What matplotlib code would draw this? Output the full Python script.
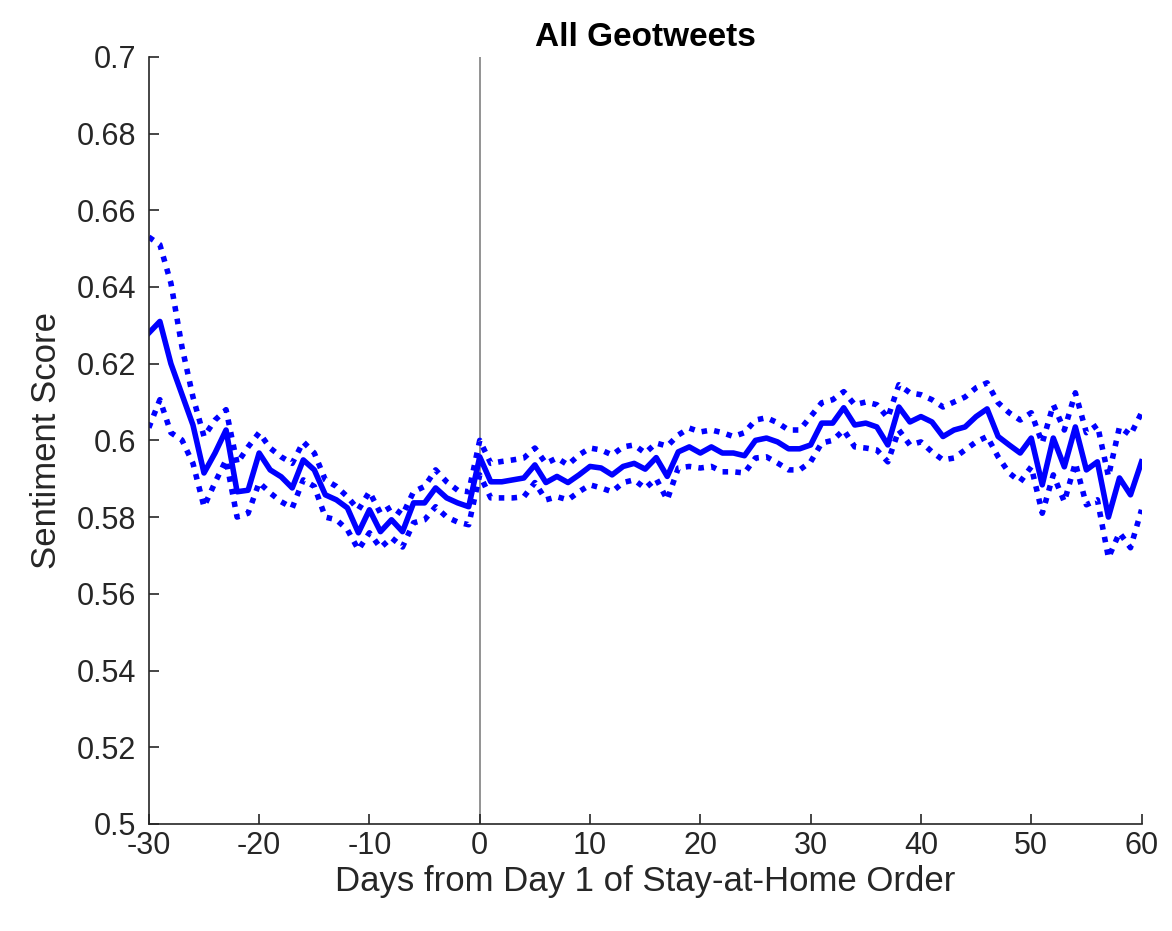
import matplotlib.pyplot as plt
import numpy as np

plt.rcParams["font.family"] = ["Liberation Sans", "DejaVu Sans"]
plt.rcParams["axes.unicode_minus"] = False

days = np.arange(-30, 61)

sentiment = [
    0.628, 0.631, 0.620, 0.612, 0.604, 0.5915, 0.5967, 0.6027, 0.5866, 0.587,
    0.5967, 0.5923, 0.5905, 0.5876, 0.5949, 0.5923, 0.5858, 0.5845, 0.5824, 0.5759,
    0.5819, 0.5762, 0.5793, 0.5762, 0.5837, 0.5837, 0.5876, 0.585, 0.5837, 0.5827,
    0.5957, 0.5892, 0.5892, 0.5897, 0.5902, 0.5936, 0.589, 0.5906, 0.589, 0.591,
    0.5932, 0.5928, 0.591, 0.5932, 0.594, 0.5925, 0.5955, 0.5906, 0.597, 0.5983,
    0.5967, 0.5983, 0.5967, 0.5967, 0.596, 0.600, 0.6006, 0.5996, 0.5978, 0.5978,
    0.5988, 0.6045, 0.6045, 0.6085, 0.604, 0.6045, 0.6035, 0.5988, 0.6087, 0.6048,
    0.6062, 0.6048, 0.601, 0.6027, 0.6035, 0.6062, 0.6082, 0.601, 0.5988, 0.5967,
    0.6006, 0.5884, 0.6006, 0.5931, 0.6035, 0.5923, 0.5944, 0.580, 0.5902, 0.5858,
    0.5944,
]

upper = [
    0.653, 0.651, 0.641, 0.6244, 0.6113, 0.601, 0.6053, 0.608, 0.594, 0.5983,
    0.602, 0.598, 0.5957, 0.594, 0.5996, 0.5967, 0.5897, 0.588, 0.5853, 0.5819,
    0.5866, 0.581, 0.5827, 0.5806, 0.5866, 0.588, 0.5923, 0.5892, 0.587, 0.5866,
    0.600, 0.594, 0.5945, 0.5949, 0.5954, 0.598, 0.594, 0.5954, 0.5936, 0.5962,
    0.598, 0.5975, 0.5962, 0.5983, 0.5988, 0.5967, 0.5993, 0.5985, 0.6014, 0.6032,
    0.6022, 0.6027, 0.602, 0.601, 0.602, 0.6053, 0.6059, 0.6046, 0.6027, 0.6027,
    0.6062, 0.6098, 0.6106, 0.6127, 0.6093, 0.610, 0.6093, 0.6059, 0.6145, 0.6124,
    0.6119, 0.6106, 0.6087, 0.610, 0.6113, 0.6137, 0.615, 0.6098, 0.6072, 0.6053,
    0.6072, 0.5993, 0.6093, 0.6027, 0.6124, 0.602, 0.604, 0.5906, 0.6035, 0.6014,
    0.6072,
]

lower = [
    0.6033, 0.6106, 0.602, 0.6001, 0.594, 0.5827, 0.589, 0.5949, 0.580, 0.581,
    0.589, 0.5863, 0.584, 0.5824, 0.5897, 0.588, 0.580, 0.5793, 0.5767, 0.5715,
    0.5759, 0.572, 0.5746, 0.5722, 0.5785, 0.5793, 0.5827, 0.580, 0.5787, 0.578,
    0.591, 0.585, 0.585, 0.585, 0.5853, 0.589, 0.5845, 0.5853, 0.5845, 0.5866,
    0.5884, 0.5876, 0.5866, 0.589, 0.5897, 0.5875, 0.590, 0.5845, 0.5928, 0.5932,
    0.5928, 0.5932, 0.5918, 0.5918, 0.5915, 0.5954, 0.5957, 0.5941, 0.5923, 0.5923,
    0.5944, 0.5993, 0.600, 0.6027, 0.5983, 0.598, 0.5975, 0.5944, 0.6027, 0.5988,
    0.5996, 0.597, 0.5949, 0.5954, 0.5975, 0.5996, 0.601, 0.5957, 0.5915, 0.5892,
    0.5931, 0.581, 0.591, 0.584, 0.5941, 0.5832, 0.5845, 0.5694, 0.5759, 0.572,
    0.5819,
]


def main() -> None:
    fig = plt.figure(figsize=(11.72, 9.31), dpi=100)
    ax = fig.add_axes([0.127, 0.115, 0.847, 0.824])

    ax.axvline(0, color="#808080", lw=1.2, zorder=1)
    ax.plot(days, upper, color="#0000ff", lw=4, ls=(0, (1, 1.3)))
    ax.plot(days, lower, color="#0000ff", lw=4, ls=(0, (1, 1.3)))
    ax.plot(days, sentiment, color="#0000ff", lw=4)

    ax.set_xlim(-30, 60)
    ax.set_ylim(0.5, 0.7)
    ax.set_xticks(np.arange(-30, 61, 10))
    ax.set_yticks(np.arange(0.5, 0.701, 0.02))
    ax.set_yticklabels(["0.5", "0.52", "0.54", "0.56", "0.58", "0.6",
                        "0.62", "0.64", "0.66", "0.68", "0.7"])
    ax.tick_params(direction="in", length=7, width=1.2, labelsize=22,
                   colors="#262626")
    ax.tick_params(axis="y", pad=9)
    ax.tick_params(axis="x", pad=5)
    for side in ("top", "right"):
        ax.spines[side].set_visible(False)
    for side in ("left", "bottom"):
        ax.spines[side].set_color("#262626")
        ax.spines[side].set_linewidth(1.2)

    ax.set_xlabel("Days from Day 1 of Stay-at-Home Order", fontsize=25,
                  color="#262626", labelpad=3)
    ax.set_ylabel("Sentiment Score", fontsize=25, color="#262626", labelpad=10)
    ax.set_title("All Geotweets", fontsize=24, fontweight="bold", pad=8)

    fig.savefig("out.png", dpi=100)
    plt.close(fig)


if __name__ == "__main__":
    main()
